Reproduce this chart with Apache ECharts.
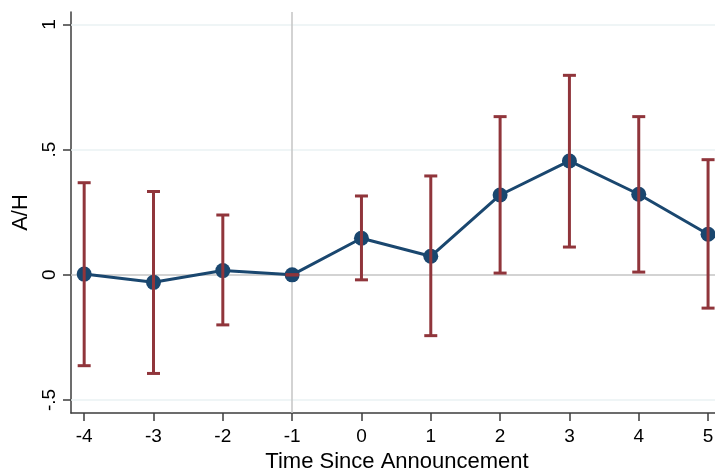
<!DOCTYPE html>
<html>
<head>
<meta charset="utf-8">
<script src="https://cdn.jsdelivr.net/npm/echarts@6/dist/echarts.min.js"></script>
<style>
html,body{margin:0;padding:0;background:#fff;}
#chart{width:715px;height:472px;}
</style>
</head>
<body>
<div id="chart"></div>
<script>
// Data
var periods = [-4, -3, -2, -1, 0, 1, 2, 3, 4, 5];
var estimates = [0.003, -0.03, 0.017, 0.0, 0.146, 0.074, 0.319, 0.455, 0.322, 0.162];
var ciLower = [-0.363, -0.394, -0.2, 0.0, -0.02, -0.243, 0.007, 0.111, 0.011, -0.133];
var ciUpper = [0.368, 0.333, 0.239, 0.0, 0.315, 0.395, 0.632, 0.797, 0.632, 0.46];
var xTicks = [-4, -3, -2, -1, 0, 1, 2, 3, 4, 5];
var yTicks = [-0.5, 0, 0.5, 1];
var yTickLabels = ['-.5', '0', '.5', '1'];
var gridLines = [-0.5, 0.5, 1];
var refY = 0;
var refX = -1;

var chart = echarts.init(document.getElementById('chart'), null, {renderer: 'canvas'});
var FONT = 'Liberation Sans, Arial, sans-serif';
var axisColor = '#3c3c3c';

var lineData = periods.map(function (p, i) { return [p, estimates[i]]; });
var ciData = periods.map(function (p, i) { return [p, ciLower[i], ciUpper[i]]; });

var markLines = gridLines.map(function (v) {
  return {yAxis: v, lineStyle: {color: '#eaf2f3', width: 1.5, type: 'solid'}};
});
markLines.push({yAxis: refY, lineStyle: {color: '#c4c4c4', width: 1.5, type: 'solid'}});
markLines.push({xAxis: refX, lineStyle: {color: '#c4c4c4', width: 1.5, type: 'solid'}});

var option = {
  animation: false,
  backgroundColor: '#ffffff',
  grid: {left: 71, right: 0, top: 12, bottom: 59, containLabel: false, outerBoundsMode: 'none'},
  xAxis: {
    type: 'value',
    min: -4.19,
    max: 5.1,
    name: 'Time Since Announcement',
    nameLocation: 'middle',
    nameGap: 31,
    nameTextStyle: {fontFamily: FONT, fontSize: 22, color: '#000', padding: [0, 0, 0, 8]},
    axisLine: {show: true, onZero: false, lineStyle: {color: axisColor, width: 1.5}},
    axisTick: {show: true, length: 8, lineStyle: {color: axisColor, width: 1.5}, customValues: xTicks},
    axisLabel: {fontFamily: FONT, fontSize: 19, color: '#000', margin: 14, customValues: xTicks,
      formatter: function (v) { return String(v); }},
    splitLine: {show: false}
  },
  yAxis: {
    type: 'value',
    min: -0.552,
    max: 1.05,
    name: 'A/H',
    nameLocation: 'middle',
    nameGap: 33,
    nameTextStyle: {fontFamily: FONT, fontSize: 22, color: '#000'},
    axisLine: {show: true, onZero: false, lineStyle: {color: axisColor, width: 1.5}},
    axisTick: {show: true, length: 8, lineStyle: {color: axisColor, width: 1.5}, customValues: yTicks},
    axisLabel: {fontFamily: FONT, fontSize: 19, color: '#000', margin: 12, rotate: 90, customValues: yTicks,
      formatter: function (v) {
        for (var i = 0; i < yTicks.length; i++) { if (Math.abs(yTicks[i] - v) < 1e-9) return yTickLabels[i]; }
        return '';
      }},
    splitLine: {show: false}
  },
  series: [
    {
      type: 'line',
      data: lineData,
      symbol: 'circle',
      symbolSize: 15,
      z: 3,
      lineStyle: {color: '#1a476f', width: 3},
      itemStyle: {color: '#1a476f'},
      markLine: {silent: true, symbol: 'none', label: {show: false}, data: markLines, z: 1}
    },
    {
      type: 'custom',
      z: 4,
      data: ciData,
      encode: {x: 0, y: [1, 2]},
      renderItem: function (params, api) {
        var x = api.value(0);
        var lo = api.coord([x, api.value(1)]);
        var hi = api.coord([x, api.value(2)]);
        var hw = 6.5;
        var style = {stroke: '#90353b', lineWidth: 3, fill: null};
        return {
          type: 'group',
          children: [
            {type: 'line', shape: {x1: lo[0], y1: lo[1], x2: hi[0], y2: hi[1]}, style: style},
            {type: 'line', shape: {x1: lo[0] - hw, y1: lo[1], x2: lo[0] + hw, y2: lo[1]}, style: style},
            {type: 'line', shape: {x1: hi[0] - hw, y1: hi[1], x2: hi[0] + hw, y2: hi[1]}, style: style}
          ]
        };
      }
    }
  ]
};
chart.setOption(option);
</script>
</body>
</html>
